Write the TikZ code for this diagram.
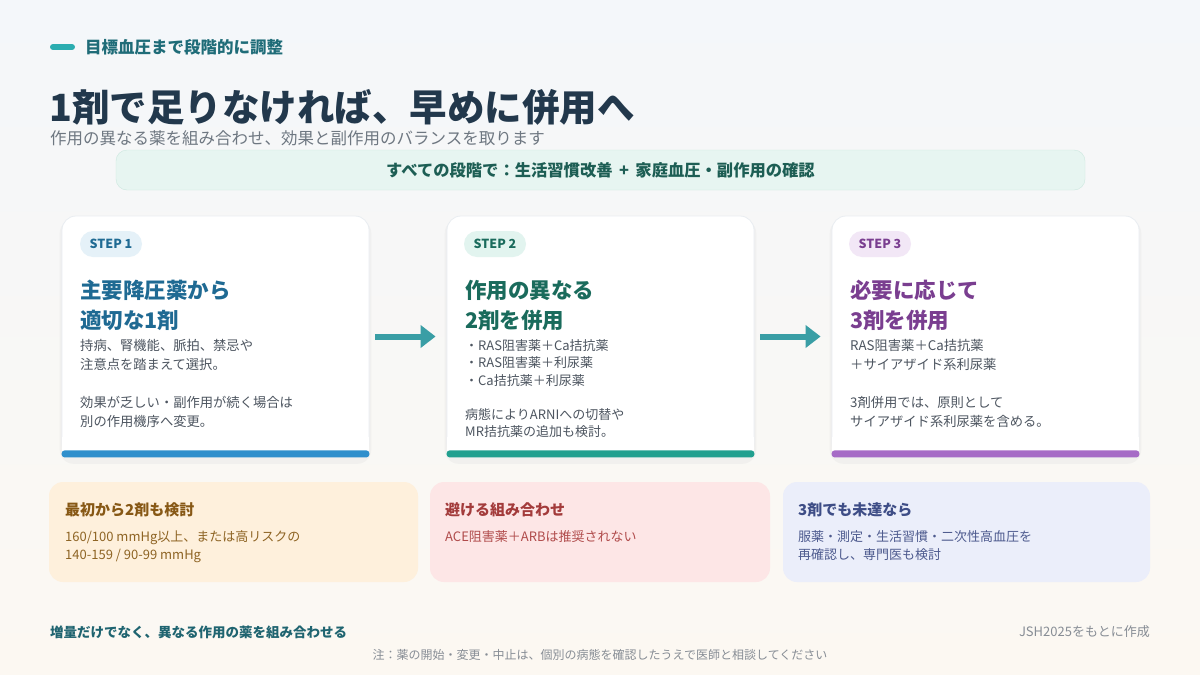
\documentclass[tikz,border=0pt]{standalone}
\usepackage{fontspec}
\setmainfont{Noto Sans CJK JP}
\usetikzlibrary{arrows.meta,shadows,calc}
\definecolor{bgtop}{HTML}{F4F7FA}
\definecolor{bgbot}{HTML}{FCF8F2}
\definecolor{tagteal}{HTML}{2BADB0}
\definecolor{tagtext}{HTML}{1F6C78}
\definecolor{titlec}{HTML}{22384C}
\definecolor{subc}{HTML}{6E7781}
\definecolor{bannerfill}{HTML}{E7F5F1}
\definecolor{bannerline}{HTML}{CCE8DF}
\definecolor{bannertext}{HTML}{1D5E54}
\definecolor{bodytext}{HTML}{4D5560}
\definecolor{cardline}{HTML}{E9EDF1}
\definecolor{arrowc}{HTML}{3A9EA5}
\definecolor{pillA}{HTML}{E5F1F8}
\definecolor{textA}{HTML}{1F6A93}
\definecolor{barA}{HTML}{2F8FCC}
\definecolor{pillB}{HTML}{E2F4EF}
\definecolor{textB}{HTML}{1A6B5C}
\definecolor{barB}{HTML}{22A08F}
\definecolor{pillC}{HTML}{F2E7F6}
\definecolor{textC}{HTML}{7A3E90}
\definecolor{barC}{HTML}{A66BC6}
\definecolor{fillY}{HTML}{FEF0DC}
\definecolor{headY}{HTML}{875815}
\definecolor{textY}{HTML}{8E6424}
\definecolor{fillR}{HTML}{FDE6E6}
\definecolor{headR}{HTML}{A33B3B}
\definecolor{textR}{HTML}{B04B4B}
\definecolor{fillV}{HTML}{EBEEFA}
\definecolor{headV}{HTML}{3E4D86}
\definecolor{textV}{HTML}{4D5A8E}
\definecolor{footteal}{HTML}{1F6470}
\definecolor{footgray}{HTML}{878D95}
\begin{document}
\begin{tikzpicture}[x=1pt, y=-1pt, line join=round,
    card/.style={fill=white, draw=cardline, line width=0.8pt, rounded corners=14pt, minimum width=307pt, minimum height=241pt, inner sep=0pt,
        drop shadow={opacity=0.06, shadow xshift=0pt, shadow yshift=-5pt, shadow scale=1.015}},
    pill/.style={rounded corners=13pt, minimum width=62pt, minimum height=26pt, inner sep=0pt,
        font=\fontsize{12.5}{14}\selectfont\bfseries},
    head/.style={anchor=north west, inner sep=0pt, align=left, font=\fontsize{21.5}{29.5}\selectfont\bfseries},
    body/.style={anchor=north west, inner sep=0pt, align=left, text=bodytext, font=\fontsize{13.3}{19}\selectfont},
    hintbox/.style={rounded corners=14pt, minimum height=100pt, inner sep=0pt},
    hinthead/.style={anchor=west, inner sep=0pt, font=\fontsize{15}{18}\selectfont\bfseries},
    hintbody/.style={anchor=north west, inner sep=0pt, align=left, font=\fontsize{13}{18}\selectfont},
    flow/.style={-{Triangle[length=15pt,width=22pt]}, line width=6pt, color=arrowc, shorten <=6pt, shorten >=11pt}]

    \shade[top color=bgtop, bottom color=bgbot] (0,0) rectangle (1200,675);

    \draw[tagteal, line width=6pt, line cap=round] (53,47) -- (72,47);
    \node[anchor=west, inner sep=0pt, text=tagtext, font=\fontsize{16.5}{20}\selectfont\bfseries] (tag) at (85,47) {目標血圧まで段階的に調整};
    \node[anchor=west, inner sep=0pt, text=titlec, font=\fontsize{37.5}{40}\selectfont\bfseries] (title) at (49,107) {1剤で足りなければ、早めに併用へ};
    \node[anchor=west, inner sep=0pt, text=subc, font=\fontsize{16.5}{20}\selectfont] (subtitle) at (50,138) {作用の異なる薬を組み合わせ、効果と副作用のバランスを取ります};

    \node[fill=bannerfill, draw=bannerline, rounded corners=11pt, minimum width=969pt, minimum height=40pt,
        text=bannertext, font=\fontsize{16.3}{20}\selectfont\bfseries] (banner) at (600.5,170)
        {すべての段階で：生活習慣改善 \,+\, 家庭血圧・副作用の確認};

    \node[card] (c1) at (215.5,336.5) {};
    \node[card] (c2) at (600.5,336.5) {};
    \node[card] (c3) at (985.5,336.5) {};

    \fill[white] ($(c1.south west)+(0.5,-20)$) rectangle ($(c1.south east)+(-0.5,0)$);
    \fill[white] ($(c2.south west)+(0.5,-20)$) rectangle ($(c2.south east)+(-0.5,0)$);
    \fill[white] ($(c3.south west)+(0.5,-20)$) rectangle ($(c3.south east)+(-0.5,0)$);
    \fill[barA, rounded corners=3pt] ($(c1.south west)+(0,-7)$) rectangle (c1.south east);
    \fill[barB, rounded corners=3pt] ($(c2.south west)+(0,-7)$) rectangle (c2.south east);
    \fill[barC, rounded corners=3pt] ($(c3.south west)+(0,-7)$) rectangle (c3.south east);

    \draw[flow] (c1) -- (c2);
    \draw[flow] (c2) -- (c3);

    \node[pill, fill=pillA, text=textA] (p1) at (111,244) {STEP 1};
    \node[pill, fill=pillB, text=textB] (p2) at (495,244) {STEP 2};
    \node[pill, fill=pillC, text=textC] (p3) at (880,244) {STEP 3};

    \node[head, text=textA] (h1) at (80,280) {主要降圧薬から\\適切な1剤};
    \node[head, text=textB] (h2) at (465,280) {作用の異なる\\2剤を併用};
    \node[head, text=textC] (h3) at (850,280) {必要に応じて\\3剤を併用};

    \node[body] (b1) at (80,339.5) {持病、腎機能、脈拍、禁忌や\\注意点を踏まえて選択。\\[19pt]効果が乏しい・副作用が続く場合は\\別の作用機序へ変更。};
    \node[body, font=\fontsize{13}{17.6}\selectfont] (b2) at (465,339) {・RAS阻害薬＋Ca拮抗薬\\・RAS阻害薬＋利尿薬\\・Ca拮抗薬＋利尿薬\\[16.4pt]病態によりARNIへの切替や\\MR拮抗薬の追加も検討。};
    \node[body] (b3) at (850,339.5) {RAS阻害薬＋Ca拮抗薬\\＋サイアザイド系利尿薬\\[19pt]3剤併用では、原則として\\サイアザイド系利尿薬を含める。};

    \node[hintbox, fill=fillY, minimum width=369pt] (n1) at (233.5,532) {};
    \node[hintbox, fill=fillR, minimum width=340pt] (n2) at (600,532) {};
    \node[hintbox, fill=fillV, minimum width=367pt] (n3) at (966.5,532) {};

    \node[hinthead, text=headY] (t1) at (65,510) {最初から2剤も検討};
    \node[hinthead, text=headR] (t2) at (445,510) {避ける組み合わせ};
    \node[hinthead, text=headV] (t3) at (798,510) {3剤でも未達なら};
    \node[hintbody, text=textY] (d1) at (65,530) {160/100 mmHg以上、または高リスクの\\140-159 / 90-99 mmHg};
    \node[hintbody, text=textR] (d2) at (445,530) {ACE阻害薬＋ARBは推奨されない};
    \node[hintbody, text=textV] (d3) at (798,530) {服薬・測定・生活習慣・二次性高血圧を\\再確認し、専門医も検討};

    \node[anchor=west, inner sep=0pt, text=footteal, font=\fontsize{13.5}{16}\selectfont\bfseries] (foot) at (50,632) {増量だけでなく、異なる作用の薬を組み合わせる};
    \node[anchor=east, inner sep=0pt, text=footgray, font=\fontsize{13}{16}\selectfont] (source) at (1150,632) {JSH2025をもとに作成};
    \node[inner sep=0pt, text=footgray, font=\fontsize{12}{15}\selectfont] (caution) at (600,655) {注：薬の開始・変更・中止は、個別の病態を確認したうえで医師と相談してください};
\end{tikzpicture}
\end{document}
